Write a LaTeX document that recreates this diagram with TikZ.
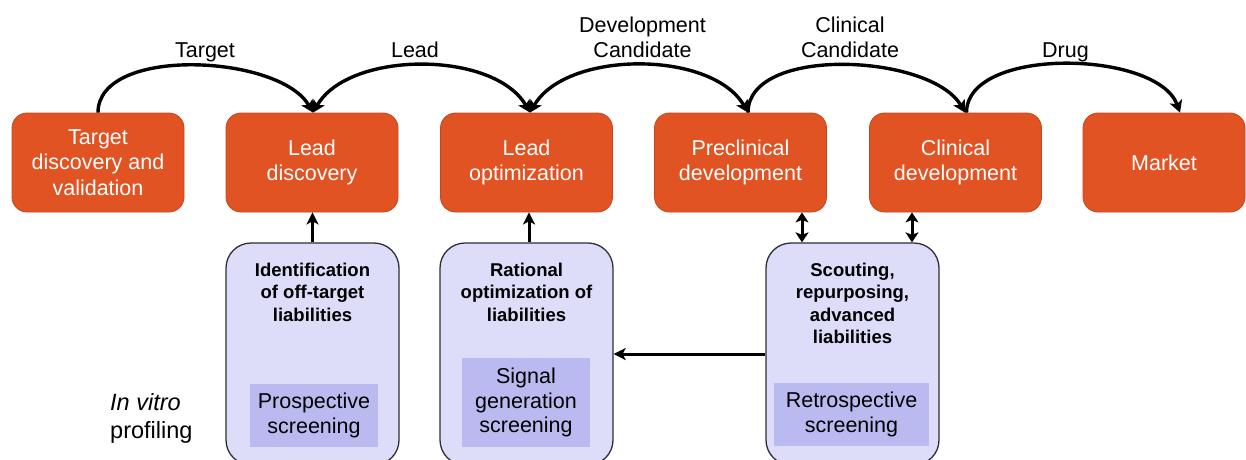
\documentclass[tikz,border=0pt]{standalone}
\usepackage{fontspec}
\setmainfont{Liberation Sans}
\usetikzlibrary{arrows.meta}

\definecolor{stagefill}{RGB}{226,83,35}
\definecolor{stageedge}{RGB}{196,70,28}
\definecolor{lavfill}{RGB}{221,221,250}
\definecolor{lavinner}{RGB}{186,186,240}
\definecolor{lavedge}{RGB}{45,45,55}

\newcommand\fsz[2]{\fontsize{#1}{#2}\selectfont}

\tikzset{
  stage/.style={rectangle, rounded corners=15pt, fill=stagefill, draw=stageedge,
    line width=0.8pt, minimum width=172pt, minimum height=99pt, inner sep=0pt,
    text=white, align=center, font=\fsz{21.5}{25.5}},
  panel/.style={rectangle, rounded corners=25pt, fill=lavfill, draw=lavedge,
    line width=1.3pt, minimum width=173pt, minimum height=222pt, inner sep=0pt},
  paneltitle/.style={anchor=north, inner sep=0pt, align=center,
    font=\fsz{18.5}{22.5}\bfseries},
  screen/.style={rectangle, fill=lavinner, inner sep=0pt, align=center,
    font=\fsz{21.5}{24.5}},
  steplabel/.style={inner sep=0pt, align=center, font=\fsz{21.5}{25.5}},
  arc/.style={line width=3.4pt, line cap=butt},
  link/.style={line width=3pt},
}

\begin{document}
\begin{tikzpicture}[x=1pt,y=1pt]
\useasboundingbox (0,0) rectangle (1246,-459);
\clip (0,0) rectangle (1246,-459);

% pipeline stages
\node[stage] (b1) at (98,-162.5) {Target\\discovery and\\validation};
\node[stage] (b2) at (312,-162.5) {Lead\\discovery};
\node[stage] (b3) at (526.5,-162.5) {Lead\\optimization};
\node[stage] (b4) at (740.5,-162.5) {Preclinical\\development};
\node[stage] (b5) at (955.5,-162.5) {Clinical\\development};
\node[stage, minimum width=162pt] (b6) at (1164,-162.5) {Market};

% milestone arcs between stages
\draw[arc, -{Stealth[length=12pt,width=13pt,inset=3pt]}]
  (b1.north) to[out=90,in=120,looseness=0.8] ([xshift=1pt]b2.north);
\draw[arc, {Stealth[length=12pt,width=13pt,inset=3pt]}-{Stealth[length=12pt,width=13pt,inset=3pt]}]
  ([xshift=1pt]b2.north) to[out=60,in=120,looseness=0.85] ([xshift=3.5pt]b3.north);
\draw[arc, {Stealth[length=12pt,width=13pt,inset=3pt]}-{Stealth[length=12pt,width=13pt,inset=3pt]}]
  ([xshift=3.5pt]b3.north) to[out=60,in=120,looseness=0.85] ([xshift=7.5pt]b4.north);
\draw[arc, -{Stealth[length=12pt,width=13pt,inset=3pt]}]
  ([xshift=7.5pt]b4.north) to[out=90,in=120,looseness=0.8] ([xshift=9.5pt]b5.north);
\draw[arc, -{Stealth[length=12pt,width=13pt,inset=3pt]}]
  ([xshift=11pt]b5.north) to[out=90,in=110,looseness=0.8] ([xshift=16pt]b6.north);

% milestone labels
\node[steplabel, anchor=base] (lTarget) at (205,-57.5) {Target};
\node[steplabel, anchor=base] (lLead) at (415,-57.5) {Lead};
\node[steplabel, anchor=north] (lDev) at (642.5,-16.5) {Development\\Candidate};
\node[steplabel, anchor=north] (lClin) at (850,-16.5) {Clinical\\Candidate};
\node[steplabel, anchor=base] (lDrug) at (1065.5,-57.5) {Drug};

% profiling panels
\node[panel] (la) at (312.5,-354) {};
\node[panel] (lb) at (526.5,-354) {};
\node[panel] (lc) at (852.5,-354) {};

\node[paneltitle] (ta) at (312.5,-262.5) {Identification\\of off-target\\liabilities};
\node[paneltitle] (tb) at (526.5,-262.5) {Rational\\optimization of\\liabilities};
\node[paneltitle] (tc) at (852.5,-262.5) {Scouting,\\repurposing,\\advanced\\liabilities};

\node[screen, minimum width=128pt, minimum height=63pt] (sa) at (314,-415.5)
  {Prospective\\screening};
\node[screen, minimum width=128pt, minimum height=89pt] (sb) at (526,-402.5)
  {Signal\\generation\\screening};
\node[screen, minimum width=155pt, minimum height=63pt] (sc) at (851.5,-414.5)
  {Retrospective\\screening};

\node[anchor=north west, inner sep=0pt, align=left, font=\fsz{23.5}{28}] (iv)
  at (110,-393) {\textit{In vitro}\\profiling};

% links from panels to stages
\draw[link, -{Stealth[length=12pt,width=12pt,inset=3pt]}]
  (la.north) -- (la.north |- b2.south);
\draw[link, -{Stealth[length=12pt,width=12pt,inset=3pt]}]
  ([xshift=2.5pt]lb.north) -- ([xshift=2.5pt]lb.north |- b3.south);
\draw[link, {Stealth[length=10pt,width=13pt,inset=2.5pt]}-{Stealth[length=10pt,width=13pt,inset=2.5pt]}]
  ([xshift=-50.5pt]lc.north) -- ([xshift=-50.5pt]lc.north |- b4.south);
\draw[link, {Stealth[length=10pt,width=13pt,inset=2.5pt]}-{Stealth[length=10pt,width=13pt,inset=2.5pt]}]
  ([xshift=59.5pt]lc.north) -- ([xshift=59.5pt]lc.north |- b5.south);
\draw[link, -{Stealth[length=12pt,width=12pt,inset=3pt]}]
  (lc.west) -- (lb.east);
\end{tikzpicture}
\end{document}
